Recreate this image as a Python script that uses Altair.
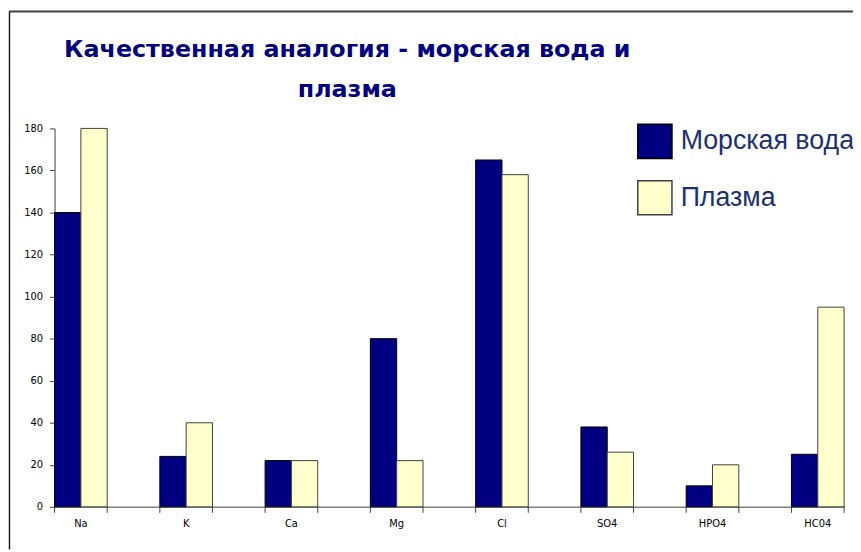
import altair as alt
import pandas as pd

categories = ["Na", "K", "Ca", "Mg", "Cl", "SO4", "HPO4", "HC04"]
sea_water = [140, 24, 22, 80, 165, 38, 10, 25]
plasma = [180, 40, 22, 22, 158, 26, 20, 95]
series = ["Морская вода", "Плазма"]
y_ticks = [0, 20, 40, 60, 80, 100, 120, 140, 160, 180]

rows = []
for c, a, b in zip(categories, sea_water, plasma):
    rows.append({"cat": c, "series": series[0], "value": a})
    rows.append({"cat": c, "series": series[1], "value": b})
df = pd.DataFrame(rows)

xscale = alt.Scale(domain=categories, paddingInner=0.5, paddingOuter=0)

bars = alt.Chart(df).mark_bar(strokeWidth=1).encode(
    x=alt.X("cat:N", sort=categories, scale=xscale,
            axis=alt.Axis(title=None, labelAngle=0, ticks=False, labelPadding=12,
                          labelFont="DejaVu Sans", labelFontSize=10, labelColor="black",
                          domainColor="#808080", domainWidth=1.5)),
    xOffset=alt.XOffset("series:N", sort=series,
                        scale=alt.Scale(domain=series, paddingInner=0, paddingOuter=0)),
    y=alt.Y("value:Q", scale=alt.Scale(domain=[0, 180], nice=False),
            axis=alt.Axis(title=None, values=y_ticks, grid=False, tickSize=5,
                          tickColor="#404040", domainColor="#404040", labelPadding=7,
                          labelFont="DejaVu Sans", labelFontSize=10, labelColor="black")),
    color=alt.Color("series:N", sort=series,
                    scale=alt.Scale(domain=series, range=["#000080", "#FFFFCC"]),
                    legend=alt.Legend(orient="none", legendX=588, legendY=-5, title=None,
                                      symbolType="square", symbolSize=1190,
                                      labelFont="Liberation Sans", labelFontSize=27,
                                      labelLimit=400,
                                      labelColor="#1c2f6e", rowPadding=15, labelOffset=8,
                                      symbolStrokeColor="black", symbolStrokeWidth=1.5,
                                      padding=0)),
    stroke=alt.Stroke("series:N", sort=series,
                      scale=alt.Scale(domain=series, range=["#000000", "#404040"]),
                      legend=None),
)

ticks_df = pd.DataFrame({"cat": categories})
tick_start = alt.Chart(ticks_df).mark_rule(color="#404040", strokeWidth=1).encode(
    x=alt.X("cat:N", sort=categories, bandPosition=0),
    y=alt.value(382), y2=alt.value(388),
)
tick_end = alt.Chart(ticks_df).mark_rule(color="#404040", strokeWidth=1).encode(
    x=alt.X("cat:N", sort=categories, bandPosition=1),
    y=alt.value(382), y2=alt.value(388),
)

frame = alt.Data(values=[{"k": 1}])
border_top = alt.Chart(frame).mark_rule(color="#404040", strokeWidth=2).encode(
    x=alt.value(-46), x2=alt.value(806), y=alt.value(-118))
border_left = alt.Chart(frame).mark_rule(color="#202020", strokeWidth=1.5).encode(
    x=alt.value(-45.5), y=alt.value(-118), y2=alt.value(425))

chart = alt.layer(bars, tick_start, tick_end, border_top, border_left).properties(
    width=797,
    height=382,
    autosize="none",
    padding={"left": 47, "top": 119, "right": 9, "bottom": 43},
    background="white",
    title=alt.TitleParams(
        text=["Качественная аналогия - морская вода и", "плазма"],
        font="DejaVu Sans", fontSize=24, fontWeight="bold", color="#000080",
        anchor="middle", align="center", dx=-103, offset=-92, lineHeight=40,
        frame="group",
    ),
).configure_view(stroke=None)

chart.save("out.html", embed_options={"renderer": "svg", "actions": False})
